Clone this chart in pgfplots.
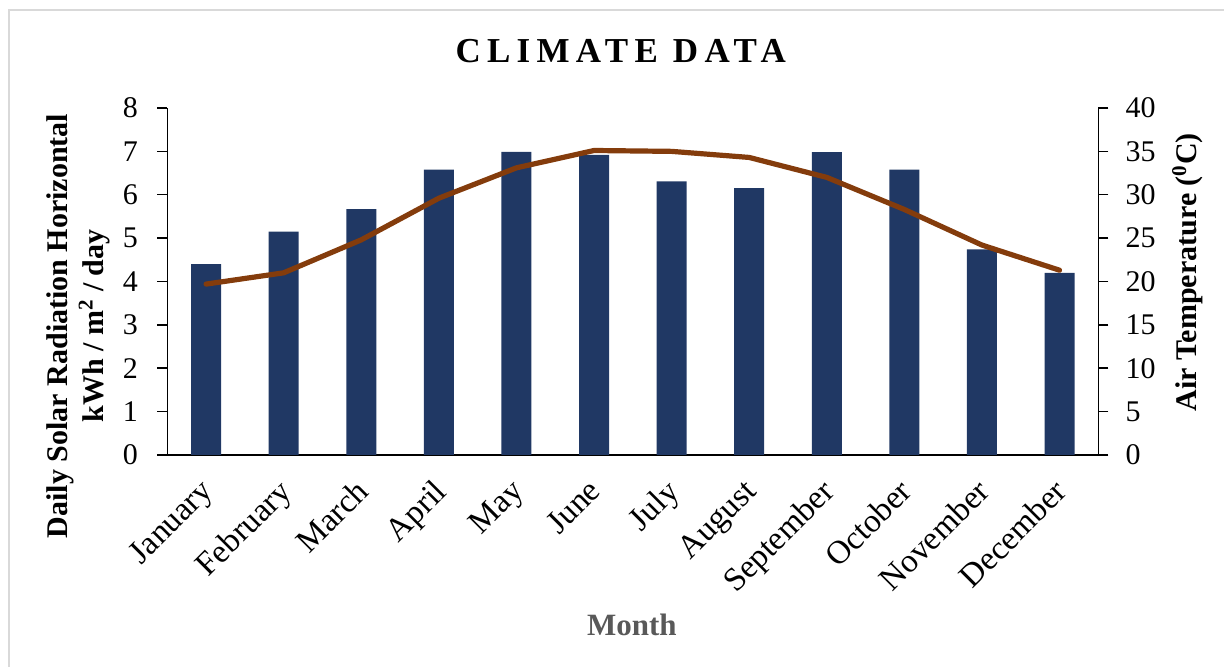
\documentclass[border=0pt]{standalone}
\usepackage{pgfplots}
\pgfplotsset{compat=1.18}
\usepackage{fontspec}
\setmainfont{Liberation Serif}
\definecolor{barblue}{HTML}{203864}
\definecolor{linebrown}{HTML}{843C0C}
\definecolor{labgray}{HTML}{595959}
\begin{document}
\begin{tikzpicture}[font=\fontsize{15pt}{18pt}\selectfont]
\useasboundingbox (0,0) rectangle (612pt,333.5pt);
\draw[black!15, line width=0.6pt] (4.5pt,0) -- (4.5pt,328.5pt) -- (612pt,328.5pt);
\begin{axis}[
  at={(83.65pt,106pt)}, anchor=south west,
  scale only axis, width=465.5pt, height=173.5pt,
  xmin=-0.5, xmax=11.5, ymin=0, ymax=8,
  axis x line*=bottom, axis y line*=left,
  axis line style={line width=0.75pt, -},
  xtick={0,...,11},
  xticklabels={January,February,March,April,May,June,July,August,September,October,November,December},
  ytick={0,1,...,8},
  tick align=outside,
  major tick length=5pt,
  tick style={line width=0.75pt, black},
  xtick style={draw=none},
  /pgf/number format/assume math mode=true,
  yticklabel style={inner sep=0pt, xshift=-9.5pt},
  xticklabel style={yshift=-6pt, xshift=-3.5pt, rotate=45, anchor=north east, inner sep=0pt, font=\fontsize{16.5pt}{18pt}\selectfont},
  ylabel={Daily Solar Radiation Horizontal\\kWh / m\textsuperscript{2} / day},
  ylabel style={font=\fontsize{15pt}{18pt}\selectfont\bfseries, align=center, rotate=0, inner sep=0pt, at={(axis description cs:-0.0615,0.372)}, anchor=south},
  xlabel={Month},
  xlabel style={font=\fontsize{15.5pt}{18pt}\selectfont\bfseries, text=labgray, at={(axis description cs:0.499,-0.52)}, anchor=base},
  title={\addfontfeatures{LetterSpace=18}CLIMATE DATA},
  title style={font=\fontsize{17.5pt}{20pt}\selectfont\bfseries, at={(axis description cs:0.487,1.097)}, anchor=base},
  clip=false,
]
\addplot[ybar, bar width=15pt, fill=barblue, draw=none] coordinates {
  (0,4.40) (1,5.15) (2,5.67) (3,6.58) (4,6.99) (5,6.92)
  (6,6.31) (7,6.15) (8,6.98) (9,6.58) (10,4.74) (11,4.20)
};
\end{axis}
\begin{axis}[
  at={(83.65pt,106pt)}, anchor=south west,
  scale only axis, width=465.5pt, height=173.5pt,
  xmin=-0.5, xmax=11.5, ymin=0, ymax=40,
  axis x line=none, axis y line*=right,
  axis line style={line width=0.75pt, -},
  ytick={0,5,...,40},
  tick align=outside,
  major tick length=5pt,
  tick style={line width=0.75pt, black},
  /pgf/number format/assume math mode=true,
  yticklabel style={inner sep=0pt, xshift=8.4pt},
  ylabel={Air Temperature (\textsuperscript{0}C)},
  ylabel style={font=\fontsize{15pt}{18pt}\selectfont\bfseries, inner sep=0pt, at={(axis description cs:1.079,0.527)}, anchor=north},
  clip=false,
]
\addplot[linebrown, line width=2.6pt, line join=round, line cap=round] coordinates {
  (0,19.7) (1,21.0) (2,24.8) (3,29.6) (4,33.1) (5,35.1)
  (6,35.0) (7,34.3) (8,32.0) (9,28.3) (10,24.2) (11,21.3)
};
\end{axis}
\end{tikzpicture}
\end{document}
